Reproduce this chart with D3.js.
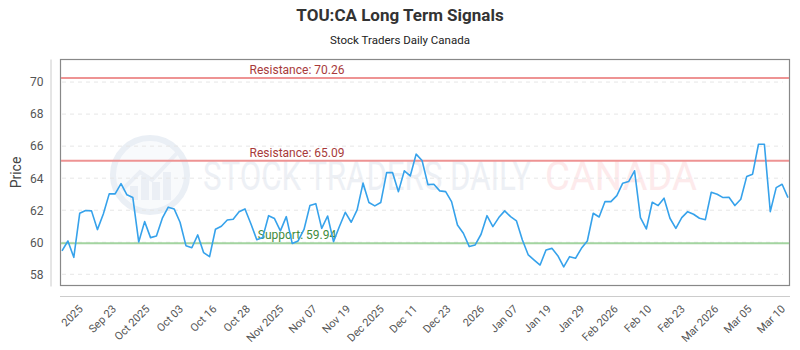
<!DOCTYPE html>
<html>
<head>
<meta charset="utf-8">
<script src="https://cdn.jsdelivr.net/npm/d3@7"></script>
<style>
  body { margin: 0; background: #fff; }
  svg text { font-family: Roboto, "Open Sans", sans-serif; }
</style>
</head>
<body>
<div id="chart"></div>
<script>

// daily closes
const prices = [
    59.46, 60.08, 59.06, 61.81, 61.98, 61.96, 60.79, 61.77, 63.02, 63.02,
    63.66, 62.96, 62.79, 60.02, 61.29, 60.29, 60.39, 61.50, 62.19, 62.08,
    61.25, 59.79, 59.66, 60.46, 59.35, 59.10, 60.81, 61.00, 61.39, 61.44,
    61.91, 62.08, 61.16, 60.16, 60.29, 61.66, 61.48, 60.71, 61.60, 59.93,
    60.08, 60.80, 62.29, 62.41, 60.87, 61.64, 60.04, 60.98, 61.87, 61.25,
    62.02, 63.69, 62.48, 62.27, 62.48, 64.35, 64.35, 63.16, 64.46, 64.14,
    65.50, 65.10, 63.60, 63.62, 63.21, 63.16, 62.54, 61.08, 60.56, 59.73,
    59.83, 60.50, 61.66, 60.98, 61.54, 61.96, 61.60, 61.33, 60.14, 59.21,
    58.89, 58.58, 59.52, 59.62, 59.16, 58.46, 59.10, 59.00, 59.62, 60.08,
    61.81, 61.58, 62.54, 62.54, 62.91, 63.69, 63.79, 64.46, 61.54, 60.83,
    62.50, 62.29, 62.75, 61.50, 60.87, 61.54, 61.91, 61.75, 61.50, 61.41,
    63.12, 63.00, 62.79, 62.81, 62.29, 62.69, 64.10, 64.25, 66.12, 66.12,
    61.91, 63.41, 63.62, 62.79
];

const tickLabels = ["2025", "Sep 23", "Oct 2025", "Oct 03", "Oct 16", "Oct 28",
    "Nov 2025", "Nov 07", "Nov 19", "Dec 2025", "Dec 11", "Dec 23", "2026",
    "Jan 07", "Jan 19", "Jan 29", "Feb 2026", "Feb 10", "Feb 23", "Mar 2026",
    "Mar 05", "Mar 10"];

const yTicks = [58, 60, 62, 64, 66, 68, 70];

const levelNames = ["Resistance", "Resistance", "Support"];
const levelValues = [70.26, 65.09, 59.94];
const levelKinds = ["res", "res", "sup"];

const yDomain = [57.27, 71.44];


let width = 800, height = 350;
let plot = {left: 60, right: 790, top: 59, bottom: 286};

let svg = d3.select("#chart")
    .append("svg")
    .attr("width", width)
    .attr("height", height);

let x = d3.scaleLinear()
    .domain([0, prices.length - 1])
    .range([plot.left + 2, plot.right - 2]);

let y = d3.scaleLinear()
    .domain(yDomain)
    .range([plot.bottom, plot.top]);

// tick labels sit evenly along the series
let xTick = d3.scalePoint()
    .domain(tickLabels)
    .range([x(3.1), x(122.1)]);


//title
svg.append("text")
    .attr("x", width / 2)
    .attr("y", 21)
    .attr("text-anchor", "middle")
    .attr("font-size", "17")
    .attr("font-weight", "bold")
    .attr("fill", "#333")
    .text("TOU:CA Long Term Signals");

svg.append("text")
    .attr("x", width / 2)
    .attr("y", 44)
    .attr("text-anchor", "middle")
    .attr("font-size", "11.5")
    .attr("fill", "#222")
    .text("Stock Traders Daily Canada");


//watermark
let wm = svg.append("g").attr("opacity", 0.55);
wm.append("circle")
    .attr("cx", 150).attr("cy", 175).attr("r", 37)
    .attr("fill", "#f4f7fb")
    .attr("stroke", "#d9e2ee")
    .attr("stroke-width", 6);
[[-20, 14], [-9, 24], [2, 18], [13, 28]].forEach(b => {
    wm.append("rect")
        .attr("x", 150 + b[0]).attr("y", 200 - b[1])
        .attr("width", 8).attr("height", b[1])
        .attr("fill", "#dbe3ee");
});
wm.append("path")
    .attr("d", "M122,190 L140,172 L152,180 L178,152")
    .attr("fill", "none")
    .attr("stroke", "#dbe3ee")
    .attr("stroke-width", 4);
wm.append("text")
    .attr("x", 203).attr("y", 190)
    .attr("font-size", "40")
    .attr("textLength", 328)
    .attr("lengthAdjust", "spacingAndGlyphs")
    .attr("fill", "#dfe5ee")
    .text("STOCK TRADERS DAILY");
wm.append("text")
    .attr("x", 545).attr("y", 190)
    .attr("font-size", "40")
    .attr("textLength", 152)
    .attr("lengthAdjust", "spacingAndGlyphs")
    .attr("fill", "#fcd9dc")
    .text("CANADA");


//grid lines
svg.append("g")
    .selectAll("line")
    .data(yTicks)
    .join("line")
    .attr("x1", plot.left + 2)
    .attr("x2", plot.right - 7)
    .attr("y1", d => y(d))
    .attr("y2", d => y(d))
    .attr("stroke", "#e6e6e6")
    .attr("stroke-dasharray", "4,4");


//y axis
let yAxis = svg.append("g")
    .attr("transform", `translate(50.5,0)`)
    .call(d3.axisLeft(y).tickValues(yTicks).tickSize(0).tickPadding(7));
yAxis.select(".domain").attr("stroke", "#ccc");
yAxis.selectAll("text")
    .attr("font-size", "12")
    .attr("fill", "#555")
    .attr("font-family", "Roboto, sans-serif");

svg.append("text")
    .attr("text-anchor", "middle")
    .attr("transform", `translate(21,${(plot.top + plot.bottom) / 2}) rotate(-90)`)
    .attr("font-size", "14")
    .attr("fill", "#444")
    .text("Price");


//x axis
svg.append("line")
    .attr("x1", plot.left).attr("x2", plot.right)
    .attr("y1", 296.5).attr("y2", 296.5)
    .attr("stroke", "#ccc");

let xAxis = svg.append("g")
    .attr("transform", `translate(0,301)`)
    .call(d3.axisBottom(xTick).tickSize(0).tickPadding(0));
xAxis.select(".domain").remove();
xAxis.selectAll("text")
    .attr("font-size", "11")
    .attr("fill", "#555")
    .attr("font-family", "'Open Sans', sans-serif")
    .attr("text-anchor", "end")
    .attr("dy", "0.35em")
    .attr("transform", "translate(0,6) rotate(-45)");


//frame
svg.append("rect")
    .attr("x", plot.left + 0.5)
    .attr("y", plot.top + 0.5)
    .attr("width", plot.right - plot.left - 1)
    .attr("height", plot.bottom - plot.top - 1)
    .attr("fill", "none")
    .attr("stroke", "#888")
    .attr("stroke-width", 1.2);


//support / resistance
let levels = levelValues.map((v, i) => ({name: levelNames[i], value: v, kind: levelKinds[i]}));

svg.append("g")
    .selectAll("line")
    .data(levels)
    .join("line")
    .attr("x1", plot.left + 1)
    .attr("x2", plot.right - 1)
    .attr("y1", d => y(d.value))
    .attr("y2", d => y(d.value))
    .attr("stroke", d => d.kind === "res" ? "#ee9393" : "#a3d4a0")
    .attr("stroke-width", 2);

svg.append("g")
    .selectAll("text")
    .data(levels)
    .join("text")
    .attr("x", 297)
    .attr("y", d => y(d.value) - 4)
    .attr("text-anchor", "middle")
    .attr("font-size", "12")
    .attr("fill", d => d.kind === "res" ? "#a83a3a" : "#3f8c3c")
    .text(d => `${d.name}: ${d.value.toFixed(2)}`);


//price line
let line = d3.line()
    .x((d, i) => x(i))
    .y(d => y(d));

svg.append("path")
    .datum(prices)
    .attr("fill", "none")
    .attr("stroke", "#36a2eb")
    .attr("stroke-width", 1.6)
    .attr("stroke-linejoin", "round")
    .attr("d", line);

</script>
</body>
</html>
